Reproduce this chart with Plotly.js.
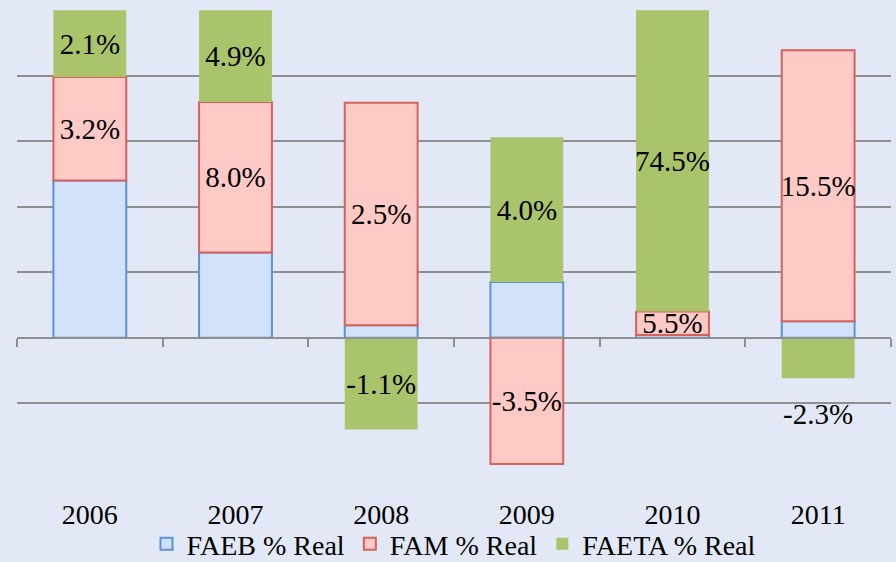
<!DOCTYPE html>
<html>
<head>
<meta charset="utf-8">
<script src="https://cdn.plot.ly/plotly-3.0.1.min.js"></script>
<style>
html,body{margin:0;padding:0;background:#e2e8f6;}
#chart{width:896px;height:562px;}
#chart text{font-family:'Liberation Serif','DejaVu Serif','Noto Serif','Times New Roman',serif !important;}
</style>
</head>
<body>
<div id="chart"></div>
<script>
const years = ['2006', '2007', '2008', '2009', '2010', '2011'];
const faeb = [2.40, 1.30, 0.19, 0.85, 0.04, 0.25];
const fam = [1.58, 2.30, 3.40, -1.93, 0.36, 4.14];
const faeta = [1.02, 1.40, -1.40, 2.21, 4.60, -0.62];
const famLabels = ['3.2%', '8.0%', '2.5%', '-3.5%', '5.5%', '15.5%'];
const faetaLabels = ['2.1%', '4.9%', '-1.1%', '4.0%', '74.5%', '-2.3%'];
const faetaTextPos = ['inside', 'inside', 'inside', 'inside', 'inside', 'none'];
const seriesNames = ['FAEB % Real', 'FAM % Real', 'FAETA % Real'];

const serif = 'Liberation Serif';
const labelFont = {family: serif, size: 29, color: '#000'};

const traces = [
  {
    type: 'bar', name: seriesNames[0], x: years, y: faeb,
    marker: {color: '#d3e2fb', line: {color: '#5b93d3', width: 2}},
    hoverinfo: 'skip'
  },
  {
    type: 'bar', name: seriesNames[1], x: years, y: fam,
    text: famLabels, textposition: 'inside', insidetextanchor: 'middle',
    textangle: 0, constraintext: 'none', textfont: labelFont,
    marker: {color: '#ffcac6', line: {color: '#d6615a', width: 2}},
    hoverinfo: 'skip'
  },
  {
    type: 'bar', name: seriesNames[2], x: years, y: faeta,
    text: faetaLabels, textposition: faetaTextPos, insidetextanchor: 'middle',
    textangle: 0, constraintext: 'none', textfont: labelFont,
    marker: {color: '#a9c46a', line: {width: 0}},
    hoverinfo: 'skip'
  },
  {
    type: 'scatter', mode: 'markers', x: years, y: years.map(() => 0),
    xaxis: 'x2', yaxis: 'y', showlegend: false, hoverinfo: 'skip',
    marker: {opacity: 0}
  }
];

// label for the last FAETA point sits below its bar
const annotations = faetaTextPos
  .map((p, i) => p === 'none' ? {
    x: i, y: faeta[i], xref: 'x', yref: 'y',
    text: faetaLabels[i], showarrow: false, yanchor: 'top', yshift: -18,
    font: labelFont
  } : null)
  .filter(a => a);

const layout = {
  width: 896, height: 562,
  margin: {l: 17, r: 5, t: 10, b: 93, autoexpand: false},
  paper_bgcolor: '#e2e8f6', plot_bgcolor: 'rgba(0,0,0,0)',
  font: {family: serif},
  barmode: 'relative', bargap: 0.5,
  showlegend: true,
  annotations: annotations,
  legend: {
    orientation: 'h', x: 0.5, xanchor: 'center', y: -0.109, yanchor: 'top',
    font: {family: serif, size: 28, color: '#000'},
    bgcolor: 'rgba(0,0,0,0)', traceorder: 'normal', itemwidth: 30
  },
  xaxis: {
    type: 'category', range: [-0.5, 5.5], autorange: false,
    showgrid: false, zeroline: false, showline: false,
    ticks: '', tickfont: {family: serif, size: 28, color: '#000'},
    ticklabelstandoff: 26, fixedrange: true
  },
  xaxis2: {
    type: 'category', overlaying: 'x', range: [-0.5, 5.5], autorange: false,
    anchor: 'free', position: 2.005 / 7.01,
    showgrid: false, zeroline: false, showline: true, linecolor: '#8f8f8f', linewidth: 2,
    ticks: 'outside', tickson: 'boundaries', ticklen: 8, tickwidth: 2, tickcolor: '#8f8f8f',
    showticklabels: false
  },
  yaxis: {
    range: [-2.005, 5.005], autorange: false, dtick: 1, showticklabels: false, ticks: '',
    showgrid: true, gridcolor: '#8f8f8f', gridwidth: 2,
    zeroline: true, zerolinecolor: '#8f8f8f', zerolinewidth: 2, fixedrange: true
  }
};

Plotly.newPlot('chart', traces, layout, {displayModeBar: false, staticPlot: true});
</script>
</body>
</html>
